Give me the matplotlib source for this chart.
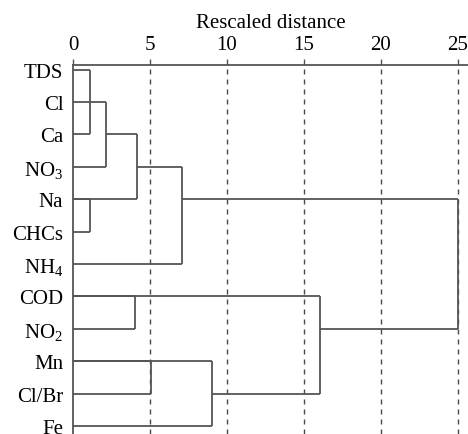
import matplotlib
matplotlib.use("Agg")
import matplotlib.pyplot as plt

plt.rcParams['font.family'] = ['Liberation Serif', 'DejaVu Serif']
plt.rcParams['mathtext.fontset'] = 'custom'
plt.rcParams['mathtext.rm'] = 'Liberation Serif'
plt.rcParams['mathtext.it'] = 'Liberation Serif:italic'
plt.rcParams['mathtext.default'] = 'regular'

# leaves (top to bottom)
leaves = ['TDS', 'Cl', 'Ca', 'NO$_3$', 'Na', 'CHCs', 'NH$_4$',
          'COD', 'NO$_2$', 'Mn', 'Cl/Br', 'Fe']

# merges: row of upper branch, row of lower branch,
# start of upper branch, start of lower branch, merge distance
row_a   = [0, 1, 2,    4, 3,    7, 9, 9, 7,    4]
row_b   = [2, 3, 4,    5, 6,    8, 10, 11, 10, 8]
start_a = [0, 0, 2.14, 0, 4.15, 0, 0, 0, 0,    7.1]
start_b = [0, 0, 0,    0, 0,    0, 0, 0, 9.03, 16.07]
height  = [1.08, 2.14, 4.15, 1.08, 7.1, 4.03, 5.05, 9.03, 16.07, 25]

xticks = [0, 5, 10, 15, 20, 25]

W, H = 468, 435
fig = plt.figure(figsize=(W / 100, H / 100), dpi=100)
ax = fig.add_axes([73 / W, 0, (W - 73) / W, (H - 66) / H])

lc = '#555555'
for g in xticks[1:]:
    ax.axvline(g, color='#4a4a4a', lw=1.0, ls=(0, (3.6, 3.6)), zorder=1)

for ra, rb, sa, sb, h in zip(row_a, row_b, start_a, start_b, height):
    ax.plot([sa, h], [ra, ra], color=lc, lw=1.3, solid_capstyle='butt', zorder=2)
    ax.plot([sb, h], [rb, rb], color=lc, lw=1.3, solid_capstyle='butt', zorder=2)
    ax.plot([h, h], [ra, rb], color=lc, lw=1.3, solid_capstyle='butt', zorder=2)

ax.set_xlim(0, 25.67)
ax.set_ylim(11.25, -0.145)
ax.xaxis.tick_top()
ax.xaxis.set_label_position('top')
ax.set_xticks(xticks)
ax.set_xticklabels([str(t) for t in xticks], fontsize=15)
ax.tick_params(axis='x', direction='out', length=4, width=1, color=lc, pad=4)
ax.set_yticks(range(len(leaves)))
ax.set_yticklabels(leaves, fontsize=15)
ax.tick_params(axis='y', length=0, pad=7)
ax.set_xlabel('Rescaled distance', fontsize=15, labelpad=6)

for s in ['right', 'bottom']:
    ax.spines[s].set_visible(False)
for s in ['top', 'left']:
    ax.spines[s].set_color(lc)
    ax.spines[s].set_linewidth(1.3)

fig.savefig('out.png', dpi=100)
